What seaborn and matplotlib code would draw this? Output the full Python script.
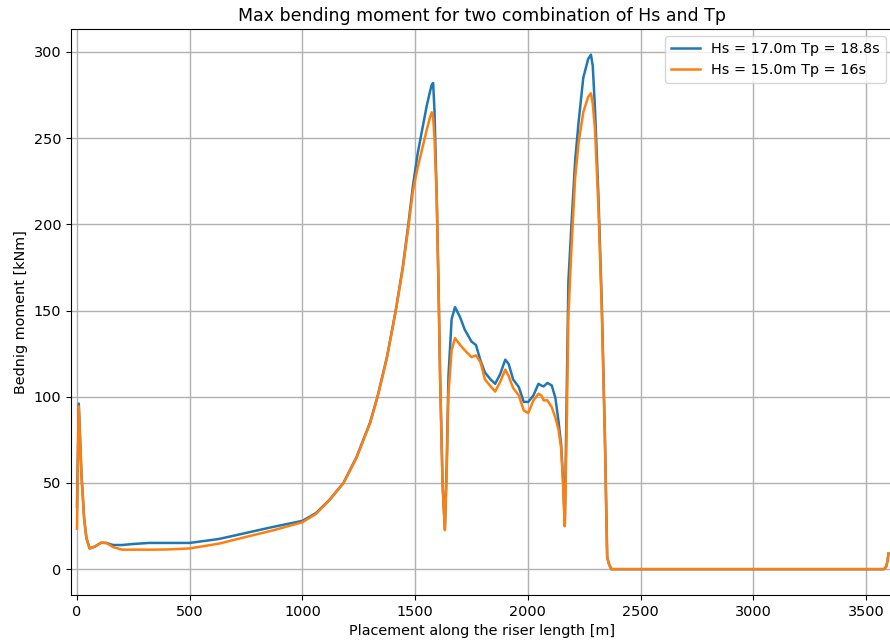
# -*- coding: utf-8 -*-

import numpy as np
import pandas as pd
import matplotlib
matplotlib.use('Agg')
import matplotlib.pyplot as plt
import seaborn as sns

plt.rcParams['font.family'] = ['DejaVu Sans']

# placement along the riser [m]
placement = [0, 8, 20, 32, 42, 56, 78, 107, 130, 160, 200, 250, 320, 400, 500,
             630, 750, 870, 1000, 1060, 1120, 1182, 1240, 1300, 1333, 1375,
             1414, 1445, 1470, 1490, 1510, 1530, 1552, 1566, 1574, 1580, 1586, 1596,
             1604, 1611, 1622, 1632, 1640, 1648, 1662, 1677, 1700, 1720, 1750,
             1770, 1790, 1810, 1835, 1855, 1877, 1900, 1915, 1935, 1960, 1982,
             2002, 2025, 2047, 2060, 2070, 2087, 2106, 2122, 2136, 2148, 2157,
             2164, 2172, 2180, 2194, 2210, 2225, 2246, 2268, 2280, 2288, 2298,
             2313, 2328, 2342, 2352, 2360, 2370, 2500, 3000, 3500, 3580, 3590,
             3596, 3600]

# Hs = 17.0m Tp = 18.8s
moment_17 = [36, 96, 55, 29, 18, 12, 13, 15.3, 15.2, 14, 14, 14.6, 15.2, 15.2, 15.2,
             17.5, 21, 24.5, 28, 32.5, 40.2, 50, 65, 85, 100, 123,
             150, 175, 200, 222, 240, 254, 269, 277, 281, 282, 266, 215,
             163, 111, 49, 23, 60, 112, 145, 152, 146, 139, 132,
             130, 121, 114, 110, 107.5, 113, 121.5, 119, 110, 105.6, 97,
             97, 100.8, 107.5, 106.5, 106, 108, 106.6, 99.5, 86, 72, 50,
             25, 97, 167, 201, 237, 259, 285, 296, 298.4, 292, 267,
             217, 155, 77, 7, 3, 0, 0, 0, 0, 0, 1.5,
             5, 9]

# Hs = 15.0m Tp = 16s
moment_15 = [23.5, 94.5, 54, 29, 18, 12, 13, 15.3, 15.2, 12.8, 11.3, 11.3, 11.3, 11.4, 12,
             14.8, 18.7, 22.5, 27.2, 32, 40, 49.8, 64.5, 84.5, 99.5, 122.5,
             149.5, 174, 198, 219, 232, 243, 255, 262, 265, 262, 250, 215,
             163, 111, 49, 22.6, 55, 102, 127, 134, 130, 127, 123,
             124, 120, 110, 106, 103, 108.5, 115.7, 112, 105, 100.8, 92,
             90.5, 97.9, 101.7, 100.8, 97.9, 97.9, 94, 88, 81, 70, 48,
             25, 77, 147, 187, 227, 247, 265, 274, 276, 270, 255,
             211, 151, 75, 7, 3, 0, 0, 0, 0, 0, 1.5,
             5, 9]

labels = ['Hs = 17.0m Tp = 18.8s', 'Hs = 15.0m Tp = 16s']
colors = ['#1f77b4', '#ff7f0e']

fs = 10.4

fig = plt.figure(figsize=(8.9, 6.43), dpi=100)
ax = fig.add_axes([71 / 890, 1 - 595 / 643, (893 - 71) / 890, (595 - 29) / 643])

# two load cases
for y, lab, col in zip([moment_17, moment_15], labels, colors):
    sns.lineplot(x=placement, y=y, ax=ax, label=lab, color=col,
                 linewidth=1.8, estimator=None, sort=False)

ax.set_xlim(-26.5, 3620)
ax.set_ylim(-15, 313.3)
ax.set_xticks(np.arange(0, 3501, 500))
ax.set_yticks(np.arange(0, 301, 50))
ax.grid(True, color='#b0b0b0', linewidth=1.0)
ax.tick_params(labelsize=fs)

ax.set_title('Max bending moment for two combination of Hs and Tp', fontsize=12.5)
ax.set_xlabel('Placement along the riser length [m]', fontsize=fs)
ax.set_ylabel('Bednig moment [kNm]', fontsize=fs)
ax.legend(loc='upper right', fontsize=fs)

plt.savefig('out.png', dpi=100)
